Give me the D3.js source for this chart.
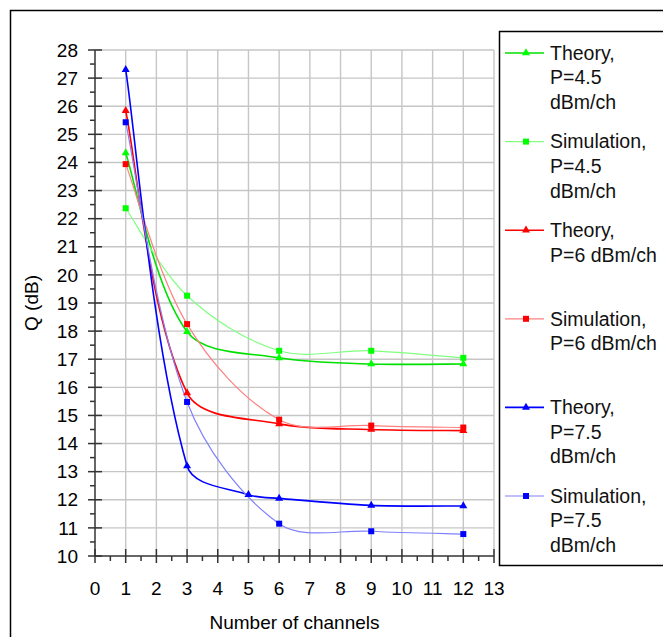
<!DOCTYPE html>
<html>
<head>
<meta charset="utf-8">
<script src="https://cdn.jsdelivr.net/npm/d3@7"></script>
<style>
  body { margin: 0; background: #fff; }
  svg { display: block; font-family: 'Liberation Sans', Arial, sans-serif; }
</style>
</head>
<body>
<div id="chart"></div>
<script>
// values
const channels = [1, 3, 6, 9, 12]
const channels75 = [1, 3, 5, 6, 9, 12]
const theory45 = [24.34, 17.98, 17.05, 16.83, 16.83]
const sim45 = [22.37, 19.26, 17.3, 17.3, 17.05]
const theory6 = [25.84, 15.8, 14.7, 14.5, 14.46]
const sim6 = [23.94, 18.25, 14.85, 14.64, 14.57]
const theory75 = [27.3, 13.2, 12.18, 12.05, 11.8, 11.78]
const sim75 = [25.43, 15.48, 11.15, 10.88, 10.78]

const xTicks = d3.range(0, 14)
const yTicks = d3.range(10, 29)
const legendLines = [
  ['Theory,', 'P=4.5', 'dBm/ch'],
  ['Simulation,', 'P=4.5', 'dBm/ch'],
  ['Theory,', 'P=6 dBm/ch'],
  ['Simulation,', 'P=6 dBm/ch'],
  ['Theory,', 'P=7.5', 'dBm/ch'],
  ['Simulation,', 'P=7.5', 'dBm/ch']
]

const series = [
  { xs: channels, ys: theory45, color: '#00ff00', line: '#00e000', w: 1.6, sym: 'tri' },
  { xs: channels, ys: sim45, color: '#00ff00', line: '#80ff80', w: 1.2, sym: 'sq' },
  { xs: channels, ys: theory6, color: '#ff0000', line: '#ff0000', w: 1.6, sym: 'tri' },
  { xs: channels, ys: sim6, color: '#ff0000', line: '#ff8080', w: 1.2, sym: 'sq' },
  { xs: channels75, ys: theory75, color: '#0000ff', line: '#0000ff', w: 1.6, sym: 'tri' },
  { xs: channels, ys: sim75, color: '#0000ff', line: '#8080ff', w: 1.2, sym: 'sq' }
]

const W = 663, H = 637
const pLeft = 95, pRight = 494, pTop = 50, pBottom = 556
const fs = 19

const svg = d3.select('#chart').append('svg').attr('width', W).attr('height', H)

svg.append('rect')
  .attr('x', 10.5).attr('y', 10.5).attr('width', 700).attr('height', 700)
  .attr('fill', 'none').attr('stroke', '#000').attr('stroke-width', 1.5)

const x = d3.scaleLinear().domain([0, 13]).range([pLeft, pRight])
const y = d3.scaleLinear().domain([10, 28]).range([pBottom, pTop])

// grid
svg.append('g').selectAll('line').data(xTicks.slice(1)).join('line')
  .attr('x1', d => x(d)).attr('x2', d => x(d)).attr('y1', pTop).attr('y2', pBottom)
  .attr('stroke', '#c6c6c6').attr('stroke-width', 1.4)
svg.append('g').selectAll('line').data(yTicks.slice(1)).join('line')
  .attr('x1', pLeft).attr('x2', pRight).attr('y1', d => y(d)).attr('y2', d => y(d))
  .attr('stroke', '#c6c6c6').attr('stroke-width', 1.4)

// axes
const ax = svg.append('g').attr('stroke', '#333').attr('stroke-width', 1.5)
ax.append('line').attr('x1', pLeft).attr('x2', pLeft).attr('y1', pTop).attr('y2', pBottom)
ax.append('line').attr('x1', pLeft).attr('x2', pRight).attr('y1', pBottom).attr('y2', pBottom)
ax.append('g').selectAll('line').data(yTicks).join('line')
  .attr('x1', pLeft - 7).attr('x2', pLeft + 7).attr('y1', d => y(d)).attr('y2', d => y(d))
ax.append('g').selectAll('line').data(yTicks.slice(0, -1).map(d => d + 0.5)).join('line')
  .attr('x1', pLeft - 5).attr('x2', pLeft).attr('y1', d => y(d)).attr('y2', d => y(d))
ax.append('g').selectAll('line').data(xTicks).join('line')
  .attr('x1', d => x(d)).attr('x2', d => x(d)).attr('y1', pBottom - 7).attr('y2', pBottom + 7)
ax.append('g').selectAll('line').data(xTicks.slice(0, -1).map(d => d + 0.5)).join('line')
  .attr('x1', d => x(d)).attr('x2', d => x(d)).attr('y1', pBottom).attr('y2', pBottom + 5)

svg.append('g').selectAll('text').data(yTicks).join('text')
  .attr('x', 78).attr('y', d => y(d)).attr('dy', '0.35em')
  .attr('text-anchor', 'end').style('font-size', fs + 'px').text(d => d)
svg.append('g').selectAll('text').data(xTicks).join('text')
  .attr('x', d => x(d)).attr('y', 588).attr('dy', '0.35em')
  .attr('text-anchor', 'middle').style('font-size', fs + 'px').text(d => d)

svg.append('text').attr('x', (pLeft + pRight) / 2).attr('y', 629)
  .attr('text-anchor', 'middle').style('font-size', fs + 'px').text('Number of channels')
svg.append('text').attr('transform', `translate(31,${(pTop + pBottom) / 2}) rotate(-90)`)
  .attr('dy', '0.35em').attr('text-anchor', 'middle').style('font-size', fs + 'px').text('Q (dB)')

// spreadsheet-style smoothing: bezier handles along the neighbour chord,
// scaled by the length of the segment they belong to
function smooth(pts) {
  const p = d3.path()
  const dist = (a, b) => Math.hypot(b[0] - a[0], b[1] - a[1])
  const n = pts.length
  const hOut = [], hIn = []
  for (let i = 0; i < n; i++) {
    const a = pts[Math.max(0, i - 1)], b = pts[Math.min(n - 1, i + 1)]
    const d = [b[0] - a[0], b[1] - a[1]]
    const lIn = i > 0 ? dist(pts[i - 1], pts[i]) : 0
    const lOut = i < n - 1 ? dist(pts[i], pts[i + 1]) : 0
    const sum = lIn + lOut
    const fOut = i === 0 ? 1 / 6 : (lOut / sum) / 3
    const fIn = i === n - 1 ? 1 / 6 : (lIn / sum) / 3
    hOut.push([pts[i][0] + d[0] * fOut, pts[i][1] + d[1] * fOut])
    hIn.push([pts[i][0] - d[0] * fIn, pts[i][1] - d[1] * fIn])
  }
  p.moveTo(pts[0][0], pts[0][1])
  for (let i = 0; i < n - 1; i++) {
    p.bezierCurveTo(hOut[i][0], hOut[i][1], hIn[i + 1][0], hIn[i + 1][1], pts[i + 1][0], pts[i + 1][1])
  }
  return p.toString()
}

const tri = s => `M0,${-s * 0.58}L${s / 2},${s * 0.29}L${-s / 2},${s * 0.29}Z`
const marker = (g, sym, color) => {
  if (sym === 'tri') g.append('path').attr('d', tri(8)).attr('fill', color)
  else g.append('rect').attr('x', -3).attr('y', -3).attr('width', 6).attr('height', 6).attr('fill', color)
}

const plot = svg.append('g')
series.forEach(s => {
  const pts = s.xs.map((v, i) => [x(v), y(s.ys[i])])
  plot.append('path').attr('d', smooth(pts)).attr('fill', 'none')
    .attr('stroke', s.line).attr('stroke-width', s.w)
})
series.forEach(s => {
  s.xs.forEach((v, i) => {
    const g = plot.append('g').attr('transform', `translate(${x(v)},${y(s.ys[i])})`)
    marker(g, s.sym, s.color)
  })
})

// legend
const lg = svg.append('g')
lg.append('rect').attr('x', 499.5).attr('y', 31.5).attr('width', 200).attr('height', 534)
  .attr('fill', '#fff').attr('stroke', '#000').attr('stroke-width', 1.5)
series.forEach((s, i) => {
  const ly = 53 + i * 88.6
  lg.append('line').attr('x1', 505).attr('x2', 544).attr('y1', ly).attr('y2', ly)
    .attr('stroke', s.line).attr('stroke-width', s.w)
  marker(lg.append('g').attr('transform', `translate(526,${ly})`), s.sym, s.color)
  lg.append('g').selectAll('text').data(legendLines[i]).join('text')
    .attr('x', 550).attr('y', (d, j) => ly + j * 24.6).attr('dy', '0.35em')
    .style('font-size', '19.5px').attr('fill', '#111').text(d => d)
})
</script>
</body>
</html>
